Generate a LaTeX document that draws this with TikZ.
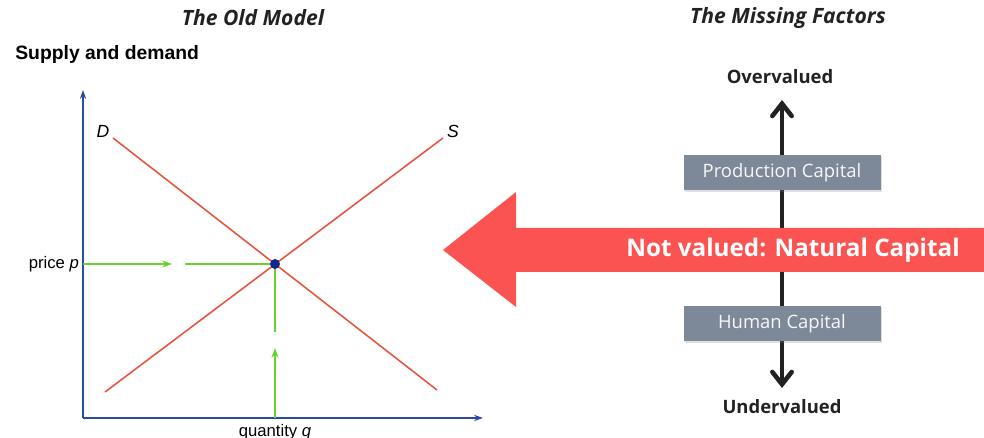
\documentclass[tikz,border=0pt]{standalone}
\usepackage{fontspec}
\setmainfont{Open Sans}
\newfontfamily\helv{Liberation Sans}
\usetikzlibrary{arrows.meta,shadows}
\definecolor{axisblue}{HTML}{2A4AA5}
\definecolor{curvered}{HTML}{E8553F}
\definecolor{guidegreen}{HTML}{6BD12B}
\definecolor{dotblue}{HTML}{0D2A8A}
\definecolor{boxgray}{HTML}{7D8898}
\definecolor{bigred}{HTML}{FB5252}
\definecolor{darkline}{HTML}{222222}
\tikzset{
  axis/.style={draw=axisblue, line width=0.9pt, -{Stealth[length=5pt,width=3.5pt]}},
  curve/.style={draw=curvered, line width=0.9pt},
  guide/.style={draw=guidegreen, line width=0.9pt},
  guidearr/.style={guide, -{Stealth[length=5.5pt,width=4pt]}},
  capbox/.style={fill=boxgray, text=white!94!boxgray, minimum width=197*0.02cm, minimum height=35*0.02cm,
    font=\fontsize{10.5}{12}\selectfont, drop shadow={opacity=0.25, shadow xshift=1pt, shadow yshift=-1pt}},
}
\begin{document}
\begin{tikzpicture}[x=0.02cm, y=0.02cm]
  \useasboundingbox (0,0) rectangle (984,438);
  % titles
  \node[font=\fontsize{12}{14}\selectfont\bfseries\itshape, text=darkline] (oldtitle) at (253,420) {The Old Model};
  \node[font=\fontsize{12}{14}\selectfont\bfseries\itshape, text=darkline] (newtitle) at (788,420) {The Missing Factors};
  \node[anchor=west, font=\helv\fontsize{11}{13}\selectfont\bfseries, inner sep=0] (sd) at (15,383) {Supply and demand};
  % axes
  \coordinate (O) at (83,20);
  \coordinate (ytop) at (83,348);
  \coordinate (xend) at (483,20);
  \draw[axis] (O) -- (ytop);
  \draw[axis] (O) -- (xend);
  % curves
  \coordinate (d1) at (113,300);
  \coordinate (d2) at (437,48);
  \coordinate (s1) at (105,46);
  \coordinate (s2) at (443,300);
  \draw[curve] (d1) -- (d2);
  \draw[curve] (s1) -- (s2);
  \node[font=\helv\itshape\fontsize{10}{12}\selectfont] (dlab) at (103,307) {D};
  \node[font=\helv\itshape\fontsize{10}{12}\selectfont] (slab) at (453,307) {S};
  % equilibrium
  \coordinate (E) at (275,174);
  \coordinate (pstop) at (172,174);
  \coordinate (pgo) at (185,174);
  \coordinate (qbase) at (275,20);
  \coordinate (qstop) at (275,90);
  \coordinate (qgo) at (275,106);
  \draw[guidearr] (83,174) -- (pstop);
  \draw[guide] (pgo) -- (E);
  \draw[guidearr] (qbase) -- (qstop);
  \draw[guide] (qgo) -- (E);
  \fill[dotblue] (E) circle (5);
  \node[anchor=east, font=\helv\fontsize{9.5}{11}\selectfont, inner sep=1pt] (price) at (81,174) {price \textit{p}};
  \node[font=\helv\fontsize{9.5}{11}\selectfont] (quant) at (275,6) {quantity \textit{q}};
  % right side
  \node[font=\fontsize{10.5}{12}\selectfont\bfseries, text=darkline] (over) at (780,361) {Overvalued};
  \node[font=\fontsize{10.5}{12}\selectfont\bfseries, text=darkline] (under) at (782,31) {Undervalued};
  \coordinate (uptip) at (782,338);
  \coordinate (downtip) at (782,50);
  \draw[darkline, line width=2.6pt, {Straight Barb[length=7pt,width=11pt,line cap=round]}-{Straight Barb[length=7pt,width=11pt,line cap=round]}] (downtip) -- (uptip);
  % red arrow
  \fill[bigred] (443,188) -- (516,246) -- (516,210) -- (984,210) -- (984,166) -- (516,166) -- (516,131) -- cycle;
  \node[font=\fontsize{13.8}{16}\selectfont\bfseries, text=white] (natcap) at (793,188) {Not valued: Natural Capital};
  \node[capbox] (prod) at (782,265) {Production Capital};
  \node[capbox] (human) at (782,114) {Human Capital};
\end{tikzpicture}
\end{document}
